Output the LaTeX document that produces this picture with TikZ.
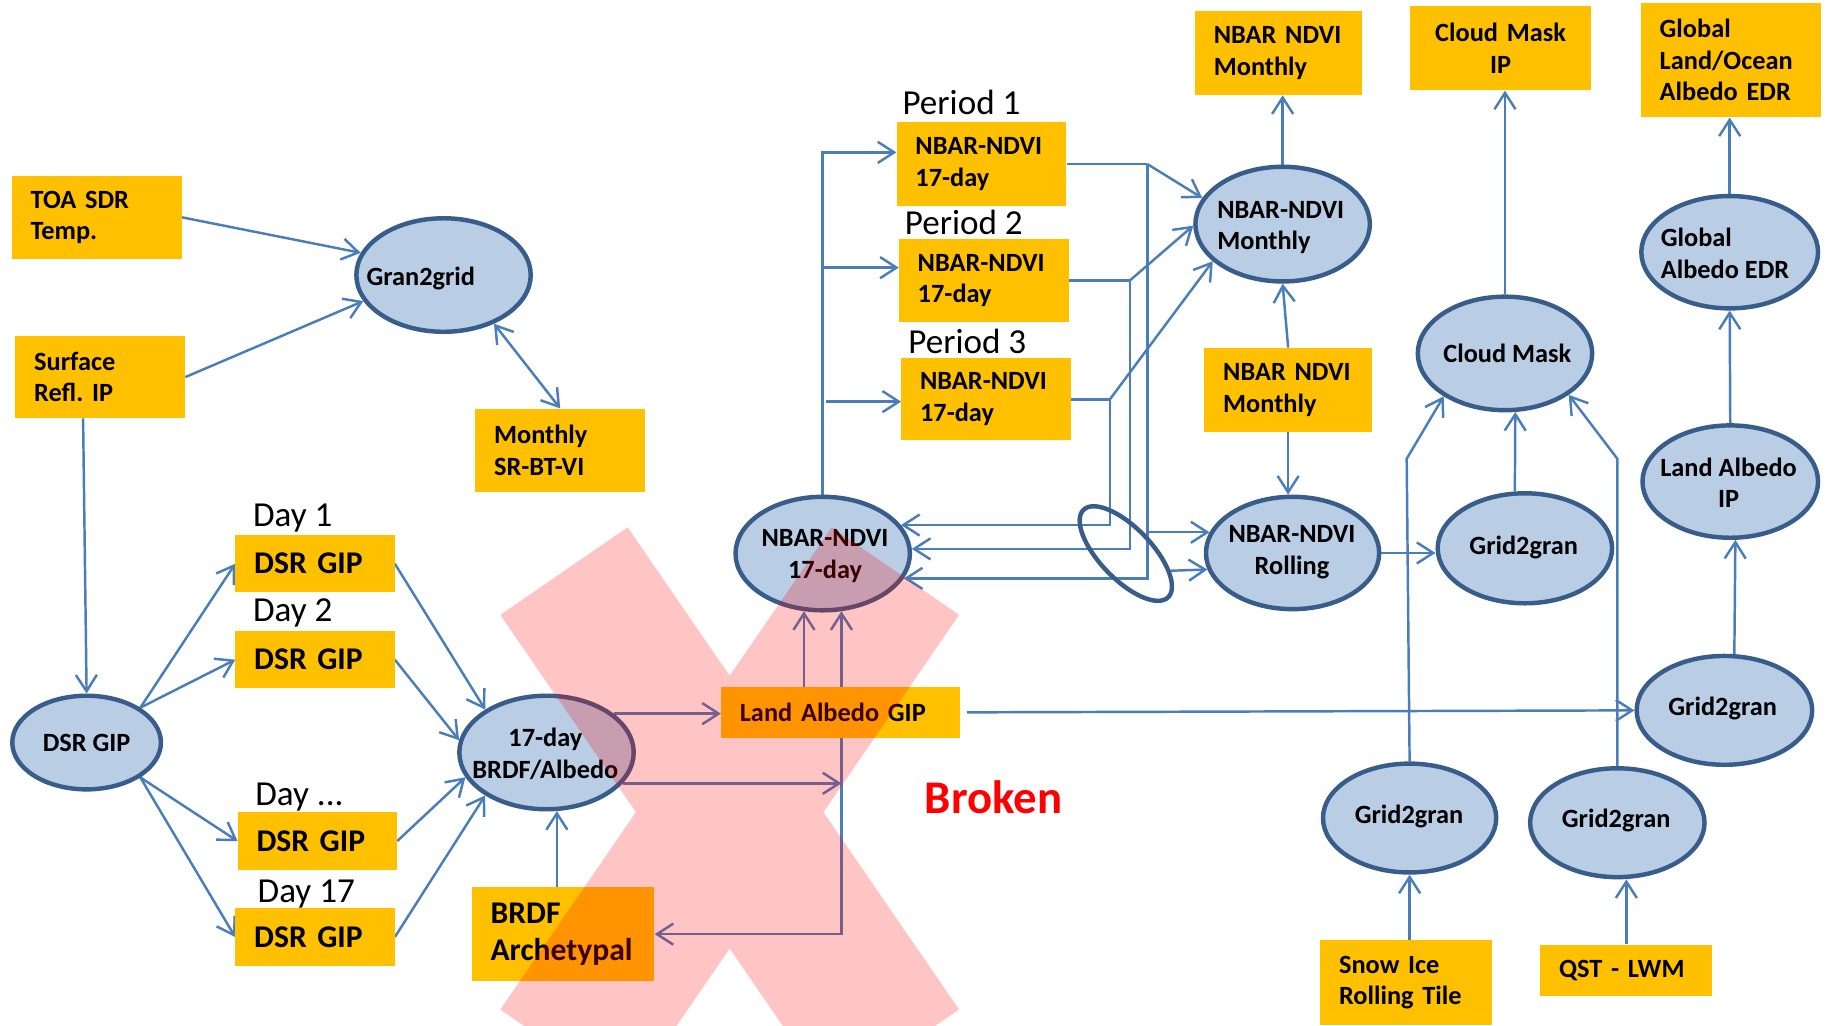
\documentclass[tikz,border=0pt]{standalone}
\usepackage{fontspec}
\setmainfont{Carlito}
\usetikzlibrary{arrows.meta,shapes.geometric,calc}
\definecolor{boxyellow}{HTML}{FFC000}
\definecolor{ovalfill}{HTML}{B9CDE5}
\definecolor{ovalline}{HTML}{385D8A}
\definecolor{wireblue}{HTML}{4A7EBB}
\pgfdeclarelayer{bg}
\pgfdeclarelayer{wires}
\pgfsetlayers{bg,wires,main}
\frenchspacing
\begin{document}
\begin{tikzpicture}[x=1pt,y=-1pt,
  txt/.style={font=\fontsize{22.5}{27}\selectfont\bfseries},
  bigtxt/.style={font=\fontsize{27}{32}\selectfont\bfseries},
  lbl/.style={font=\fontsize{30}{36}\selectfont, inner sep=0pt, anchor=base west},
  ybox/.style 2 args={fill=boxyellow, anchor=north west, minimum width=#1pt,
    minimum height=#2pt, inner xsep=16pt, inner ysep=0pt, align=left, txt},
  oval/.style 2 args={ellipse, draw=ovalline, line width=3.8pt, fill=ovalfill,
    inner sep=0pt, minimum width=#1pt, minimum height=#2pt},
  etxt/.style={txt, inner sep=0pt, align=center},
  wire/.style={draw=wireblue, line width=2.1pt},
  arr/.style={wire, -{Straight Barb[length=14pt,width=18pt]}},
  darr/.style={wire, {Straight Barb[length=14pt,width=18pt]}-{Straight Barb[length=14pt,width=18pt]}}
]
\begin{pgfonlayer}{bg}
  \fill[white] (0,0) rectangle (1568,876);
\end{pgfonlayer}
\useasboundingbox (0,0) rectangle (1568,876);

% ---------- yellow product boxes ----------
\node[ybox={145}{71}, text width=113pt] (toa) at (10,150) {TOA SDR\\Temp.};
\node[ybox={145}{70}, text width=113pt] (surf) at (13,287) {Surface\\Refl. IP};
\node[ybox={145}{71}, text width=113pt] (msr) at (406,349) {Monthly\\SR-BT-VI};
\node[ybox={136}{49}, text width=104pt, bigtxt] (d1) at (201,457) {DSR GIP};
\node[ybox={136}{49}, text width=104pt, bigtxt] (d2) at (201,539) {DSR GIP};
\node[ybox={136}{49}, text width=104pt, bigtxt] (d3) at (203,694) {DSR GIP};
\node[ybox={136}{49}, text width=104pt, bigtxt] (d4) at (201,776) {DSR GIP};
\node[ybox={156}{80}, text width=124pt, bigtxt] (brdfa) at (403,758) {BRDF\\Archetypal};
\node[ybox={204}{43}, text width=172pt] (lgip) at (616,587) {Land Albedo GIP};
\node[ybox={145}{72}, text width=113pt] (p1) at (766,104) {NBAR-NDVI\\17-day};
\node[ybox={145}{71}, text width=113pt] (p2) at (768,204) {NBAR-NDVI\\17-day};
\node[ybox={145}{70}, text width=113pt] (p3) at (770,306) {NBAR-NDVI\\17-day};
\node[ybox={143}{72}, text width=111pt] (nbm1) at (1021,9) {NBAR NDVI\\Monthly};
\node[ybox={143}{72}, text width=111pt] (nbm2) at (1029,297) {NBAR NDVI\\Monthly};
\node[ybox={154}{72}, text width=122pt, align=center] (cmip) at (1205,5) {Cloud Mask\\IP};
\node[ybox={154}{98}, text width=122pt] (glo) at (1402,2) {Global\\Land/Ocean\\Albedo EDR};
\node[ybox={147}{73}, text width=115pt] (sit) at (1128,803) {Snow Ice\\Rolling Tile};
\node[ybox={147}{44}, text width=115pt] (qst) at (1316,807) {QST - LWM};

% ---------- period and day captions ----------
\node[lbl] (per1) at (771,98) {Period 1};
\node[lbl] (per2) at (773,200) {Period 2};
\node[lbl] (per3) at (776,302) {Period 3};
\node[lbl] (day1) at (216,450) {Day 1};
\node[lbl] (day2) at (216,531) {Day 2};
\node[lbl] (dayn) at (218,688) {Day ...};
\node[lbl] (day17) at (220,771) {Day 17};

% ---------- processing ovals ----------
\node[oval={149}{97}] (g2g) at (379,235) {};
\node[oval={127}{80}] (dsr) at (74,634.5) {};
\node[oval={149}{97}] (brdf) at (467,643) {};
\node[oval={149}{97}] (nb17) at (703,473) {};
\node[oval={149}{98}] (nbM) at (1096,191.5) {};
\node[oval={148}{96}] (rol) at (1104.5,472.5) {};
\node[oval={149}{97}] (cm) at (1286,302) {};
\node[oval={149}{94}] (g2gM) at (1303,468.5) {};
\node[oval={151}{96}] (gae) at (1478,215.5) {};
\node[oval={150}{96}] (lai) at (1478.5,411.5) {};
\node[oval={150}{93}] (g2gR) at (1473.5,607) {};
\node[oval={148}{93}] (g2gBL) at (1204.5,699) {};
\node[oval={149}{93}] (g2gBR) at (1382,703) {};
\node[ellipse, draw=ovalline, line width=3.8pt, inner sep=0pt,
      minimum width=104pt, minimum height=44pt, rotate=-46] (grp) at (962,473) {};

% oval captions
\node[etxt, anchor=west] (g2g-t) at (313,238) {Gran2grid};
\node[etxt] (dsr-t) at (74,635) {DSR GIP};
\node[etxt] (brdf-t) at (466,644) {17-day\\BRDF/Albedo};
\node[etxt] (nb17-t) at (705,475) {NBAR-NDVI\\17-day};
\node[etxt, anchor=west, align=left] (nbM-t) at (1040,194.5) {NBAR-NDVI\\Monthly};
\node[etxt] (rol-t) at (1104,472) {NBAR-NDVI\\Rolling};
\node[etxt] (cm-t) at (1288,302) {Cloud Mask};
\node[etxt] (g2gM-t) at (1302,468) {Grid2gran};
\node[etxt, anchor=west, align=left] (gae-t) at (1419,216.5) {Global\\Albedo EDR};
\node[etxt] (lai-t) at (1477,412.5) {Land Albedo\\IP};
\node[etxt] (g2gR-t) at (1472,605) {Grid2gran};
\node[etxt] (g2gBL-t) at (1204,698) {Grid2gran};
\node[etxt] (g2gBR-t) at (1381,701) {Grid2gran};

\node[font=\fontsize{40}{48}\selectfont\bfseries, text=red, inner sep=0pt] (broken) at (849,681) {Broken};

% ---------- connectors ----------
\begin{pgfonlayer}{wires}
  % gridding of the inputs
  \draw[arr] (toa.east) -- (g2g.165);
  \draw[arr] (surf.east) -- (g2g.198);
  \draw[darr] (g2g.-44) -- (msr.north);
  \draw[arr] ($(surf.south west)+(58,0)$) -- (dsr.north);
  % daily DSR GIPs
  \draw[arr] (dsr.33) -- (d1.west);
  \draw[arr] (dsr.33) -- (d2.west);
  \draw[arr] (dsr.-33) -- (d3.west);
  \draw[arr] (dsr.-33) -- (d4.west);
  \draw[arr] (d1.east) -- (brdf.145);
  \draw[arr] (d2.east) -- (brdf.172);
  \draw[arr] (d3.east) -- (brdf.197);
  \draw[arr] (d4.east) -- (brdf.215);
  \draw[arr] (brdfa.north -| brdf.-80) -- (brdf.-80);
  \draw[arr] (brdf.30) -- (brdf.30 -| lgip.west);
  % feedback into the 17-day NBAR-NDVI
  \coordinate (up2) at (nb17.-72);
  \draw[darr] (brdfa.east) -- (brdfa.east -| up2) -- (up2);
  \draw[arr] (brdf.-22) -- (brdf.-22 -| up2);
  \draw[arr] (lgip.north -| nb17.-108) -- (nb17.-108);
  \draw[arr] ($(lgip.east)+(6,0)$) -- (g2gR.west);
  % the three periods
  \coordinate (p1in) at ($(p1.west)+(0,-10)$);
  \coordinate (p2in) at ($(p2.west)+(0,-11)$);
  \coordinate (p3in) at ($(p3.west)+(0,2)$);
  \draw[arr] (nb17.north) |- (p1in);
  \draw[arr] (nb17.north |- p2in) -- (p2in);
  \draw[arr] ($(nb17.north |- p3in)+(3,0)$) -- (p3in);
  \coordinate (k1) at ($(p1.east)+(69,0)$);
  \coordinate (k2) at ($(p2.east)+(52,0)$);
  \coordinate (k3) at ($(p3.east)+(33,0)$);
  \draw[wire] (p1.east) -- (k1);
  \draw[arr] (k1) -- (nbM.162);
  \draw[arr] (k1) |- (nb17.-17);
  \draw[wire] (p2.east) -- (k2);
  \draw[arr] (k2) -- (nbM.181);
  \draw[arr] (k2) |- (nb17.3);
  \draw[wire] (p3.east) -- (k3);
  \draw[arr] (k3) -- (nbM.208);
  \draw[arr] (k3) |- (nb17.20);
  \draw[arr] (k1 |- rol.166) -- (rol.166);
  \draw[arr] (grp.25) -- (rol.191);
  % monthly and rolling products
  \draw[arr] (nbM.north) -- (nbM.north |- nbm1.south);
  \draw[arr] (nbm2.north) -- (nbM.south);
  \draw[arr] (nbm2.south) -- (nbm2.south |- rol.north);
  \draw[arr] (rol.east) -- (rol.east -| g2gM.west);
  % cloud mask
  \draw[arr] (g2gM.100) -- (cm.-80);
  \draw[arr] (cm.north) -- (cm.north |- cmip.south);
  \coordinate (bl1) at (1202,392);
  \coordinate (br1) at (1382,392);
  \draw[arr] (g2gBL.north) -- (bl1) -- (cm.215);
  \draw[arr] (g2gBR.north) -- (br1) -- (cm.-33);
  \draw[arr] (sit.north -| g2gBL.south) -- (g2gBL.south);
  \draw[arr] (qst.north) -- (qst.north |- g2gBR.south);
  % albedo chain
  \draw[arr] (g2gR.80) -- (lai.-85);
  \draw[arr] (lai.north) -- (gae.south);
  \draw[arr] (gae.north) -- (gae.north |- glo.south);
\end{pgfonlayer}

% ---------- translucent cross over the broken path ----------
\begin{scope}
  \clip (0,0) rectangle (1568,876);
  \fill[red, opacity=0.23]
    (427.5,525.4) -- (536.3,450.6) -- (819.5,862.6) -- (710.7,937.4) -- cycle
    (710.7,450.6) -- (819.5,525.4) -- (536.3,937.4) -- (427.5,862.6) -- cycle;
\end{scope}
\end{tikzpicture}
\end{document}
